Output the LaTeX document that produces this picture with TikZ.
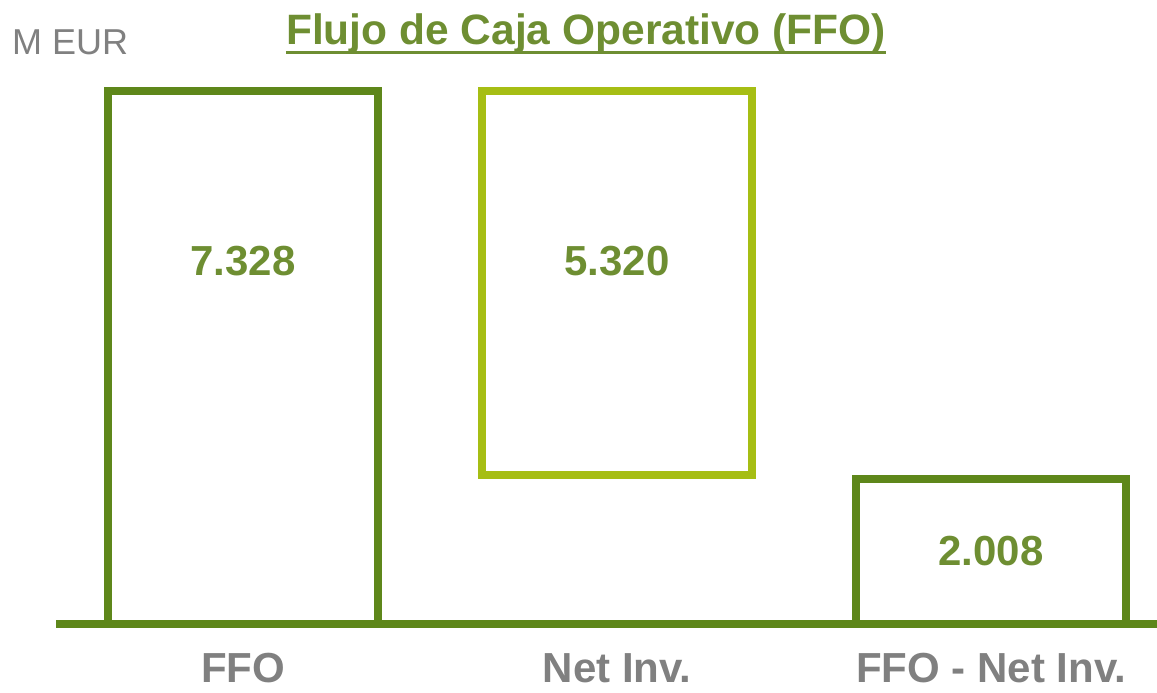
\documentclass[tikz,border=0pt]{standalone}
\usepackage{fontspec}
\setmainfont{Liberation Sans}
\usepackage{tikz}
\definecolor{ffogreen}{RGB}{94,135,26}
\definecolor{invgreen}{RGB}{166,190,20}
\definecolor{valgreen}{RGB}{110,142,50}
\definecolor{labgray}{RGB}{128,128,128}
\tikzstyle{bar}=[draw=ffogreen,line width=8pt,minimum width=270pt,inner sep=0pt]
\tikzstyle{inv bar} = [bar, draw=invgreen]
\tikzstyle{value} = [text=valgreen,font=\fontsize{42}{50}\selectfont\bfseries,inner sep=0pt]
\tikzstyle{cat} = [text=labgray,font=\fontsize{42}{50}\selectfont\bfseries,inner sep=0pt,anchor=base]
\tikzstyle{axis} = [draw=ffogreen,line width=8pt]

\begin{document}
\begin{tikzpicture}[x=1pt,y=1pt]
    \useasboundingbox (0,0) rectangle (1157,693);
    % First we draw the bars
    \foreach \pos/\name/\h/\kind in {{(243,335.5)/ffo/533/bar}, {(617,410)/inv/384/inv bar}, {(991,141.5)/net/145/bar}}
        \node[\kind,minimum height=\h pt] (\name) at \pos {};

    % the base line
    \coordinate (axl) at (56,69);
    \coordinate (axr) at (1157,69);
    \path[axis] (axl) -- (axr);

    % values inside the bars
    \node[value] (vffo) at (243,432) {7.328};
    \node[value] (vinv) at (617,432) {5.320};
    \node[value] (vnet) at (net.center) {2.008};

    % categories
    \foreach \x/\name/\text in {243/cffo/FFO, 617/cinv/Net Inv., 991/cnet/FFO - Net Inv.}
        \node[cat] (\name) at (\x,10) {\text};

    % title and unit
    \node[anchor=base,inner sep=0pt,text=valgreen,font=\fontsize{42.5}{50}\selectfont\bfseries] (title) at (586,648) {Flujo de Caja Operativo (FFO)};
    \draw[valgreen,line width=3pt] ([yshift=-7.5pt]title.base west) -- ([yshift=-7.5pt]title.base east);
    \node[anchor=base west,inner sep=0pt,text=labgray,font=\fontsize{36}{43}\selectfont] (unit) at (12,638) {M EUR};
\end{tikzpicture}
\end{document}
